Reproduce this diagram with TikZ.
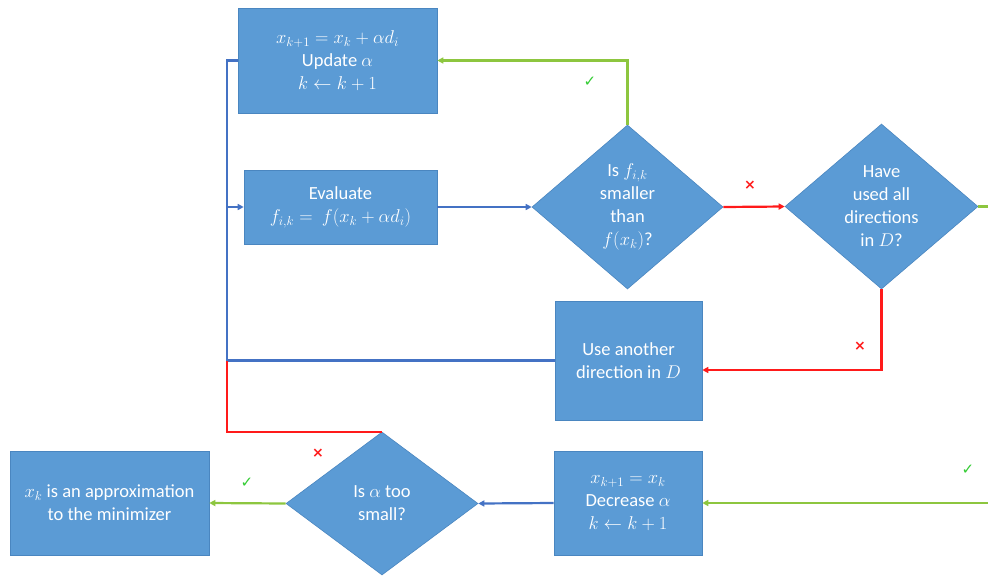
\documentclass[tikz,border=0pt]{standalone}
\usepackage{fix-cm}
\usepackage{fontspec}
\setmainfont{Carlito}
\newfontfamily\symfont{DejaVu Sans}
\usetikzlibrary{shapes.geometric,arrows.meta}
\definecolor{boxblue}{HTML}{5B9BD5}
\definecolor{boxedge}{HTML}{4A86C0}
\definecolor{lineblue}{HTML}{4472C4}
\definecolor{linered}{HTML}{FF1A1A}
\definecolor{linegreen}{HTML}{8DC63F}
\definecolor{tickgreen}{HTML}{33CC33}
\begin{document}
\begin{tikzpicture}[x=1pt,y=-1pt,
  box/.style={rectangle, fill=boxblue, draw=boxedge, line width=0.6pt, text=white,
    align=center, font=\fontsize{18.5}{23}\selectfont, inner sep=0pt},
  dia/.style={diamond, fill=boxblue, draw=boxedge, line width=0.6pt, text=white,
    align=center, font=\fontsize{18.5}{23}\selectfont, inner sep=0pt},
  bl/.style={draw=lineblue, line width=2.2pt},
  rl/.style={draw=linered, line width=2.2pt},
  gl/.style={draw=linegreen, line width=2.2pt},
  tip/.style={arrows={-{Triangle[length=6pt,width=6pt]}}},
  okmark/.style={text=tickgreen, font=\symfont\fontsize{15}{15}\selectfont, inner sep=0pt},
  nomark/.style={text=linered, font=\symfont\bfseries\fontsize{14}{14}\selectfont, inner sep=0pt}]
\useasboundingbox (0,0) rectangle (988,576);

\node[box, minimum width=199pt, minimum height=105pt] (upd) at (337.5,60.5)
  {$x_{k+1} = x_k + \alpha d_i$\\Update $\alpha$\\$k \leftarrow k+1$};
\node[box, minimum width=193pt, minimum height=74pt] (eval) at (340.5,207)
  {Evaluate\\$f_{i,k} = \ f(x_k+\alpha d_i)$};
\node[dia, minimum width=191pt, minimum height=164pt] (d1) at (627.5,207)
  {Is $f_{i,k}$\\smaller\\than\\$f(x_k)$?};
\node[dia, minimum width=193pt, minimum height=165pt] (d2) at (881.5,206.5)
  {Have\\used all\\directions\\in $D$?};
\node[box, minimum width=147pt, minimum height=119pt] (use) at (628.5,360.5)
  {Use another\\direction in $D$};
\node[dia, minimum width=192pt, minimum height=143pt] (d3) at (382,503.5)
  {Is $\alpha$ too\\small?};
\node[box, minimum width=199pt, minimum height=104pt] (appr) at (109.5,503)
  {$x_k$ is an approximation\\to the minimizer};
\node[box, minimum width=148pt, minimum height=104pt] (dec) at (628,503)
  {$x_{k+1} = x_k$\\Decrease $\alpha$\\$k \leftarrow k+1$};

\coordinate (bus) at (227,0);
\coordinate (r1) at (990,206.5);
\coordinate (r2) at (990,503);
\coordinate (ua) at ([yshift=-9.5pt]use.east);

% blue bus on the left
\draw[bl] (upd.west) -- (upd.west -| bus) -- (eval.west -| bus);
\draw[bl,tip] (use.west) -- (use.west -| bus) -- (eval.west -| bus) -- (eval.west);
% red from d3 to bus
\draw[rl] (d3.north) -- (d3.north -| bus) -- (use.west -| bus);
% evaluate -> d1
\draw[bl,tip] (eval.east) -- (d1.west);
% d1 yes -> update
\draw[gl,tip] (d1.north) -- (d1.north |- upd.east) -- (upd.east);
% d1 no -> d2
\draw[rl,tip] (d1.east) -- (d2.west);
% d2 no -> use another
\draw[rl,tip] (d2.south) -- (d2.south |- ua) -- (ua);
% d2 yes -> off the right edge
\draw[gl] (d2.east) -- (r1);
\draw[gl,tip] (r2) -- (dec.east);
% decrease -> d3
\draw[bl,tip] (dec.west) -- (d3.east);
% d3 yes -> approximation
\draw[gl,tip] (d3.west) -- (appr.east);

\node[okmark] (m1) at (590,82) {✓};
\node[nomark] (m2) at (750,185) {×};
\node[nomark] (m3) at (860,346) {×};
\node[okmark] (m4) at (968,470) {✓};
\node[okmark] (m5) at (247,483) {✓};
\node[nomark] (m6) at (318,453) {×};
\end{tikzpicture}
\end{document}
